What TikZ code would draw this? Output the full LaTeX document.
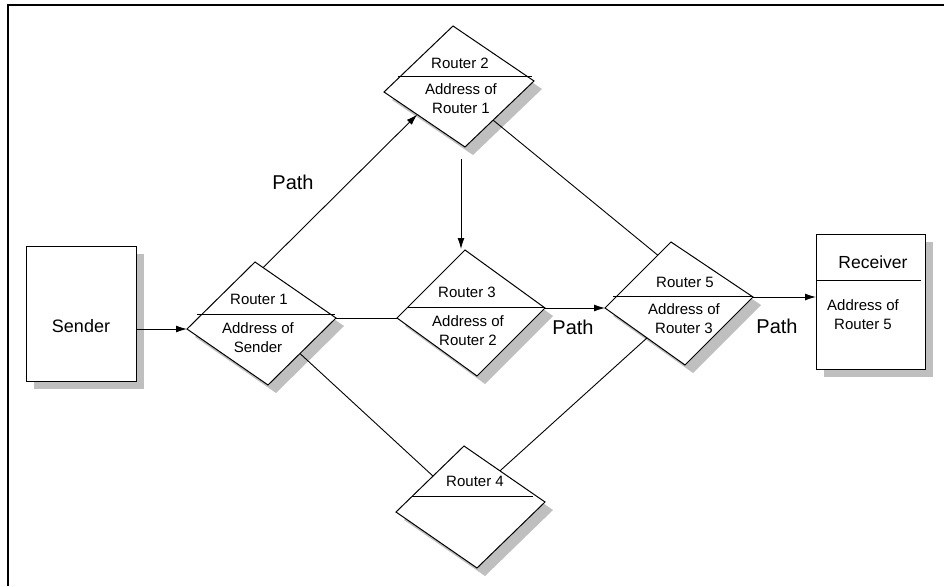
\documentclass[tikz,border=0pt]{standalone}
\usepackage{fontspec}
\setmainfont{Liberation Sans}
\usetikzlibrary{calc,arrows.meta}
\newcommand\drawrouter[5]{%
  \coordinate (#1T) at (#2);
  \coordinate (#1L) at (#3);
  \coordinate (#1R) at (#4);
  \coordinate (#1B) at (#5);
  \fill[shadowfill] ($(#1T)+(8,8)$) -- ($(#1R)+(8,8)$) -- ($(#1B)+(8,8)$) -- ($(#1L)+(8,8)$) -- cycle;
  \draw[shapebox] (#1T) -- (#1R) -- (#1B) -- (#1L) -- cycle;
}
\begin{document}
\begin{tikzpicture}[x=1pt,y=-1pt,
  shapebox/.style={draw=black,fill=white,line width=1pt},
  shadowfill/.style={fill=black!25,draw=none},
  divider/.style={draw=black,line width=1pt},
  conn/.style={draw=black,line width=0.9pt},
  arr/.style={conn,-{Latex[length=11pt,width=7pt]}},
  rtxt/.style={font=\fontsize{15}{19}\selectfont,align=center,inner sep=0pt},
  pathlbl/.style={font=\fontsize{20}{24}\selectfont,inner sep=0pt}]
\useasboundingbox (0,0) rectangle (944,586);
% frame
\coordinate (fTL) at (8,5);
\coordinate (fTR) at (944,5);
\coordinate (fBL) at (8,586);
\draw[line width=1.2pt] (fBL) -- (fTL) -- (fTR);

% Sender
\fill[shadowfill] (34,254) rectangle (144,389);
\draw[shapebox] (26,246) rectangle (136,381);
\node[font=\fontsize{18}{22}\selectfont,inner sep=0pt] (sender) at (81,326) {Sender};
\coordinate (sendR) at (136,329);

% Receiver
\fill[shadowfill] (824,242) rectangle (933,377);
\draw[shapebox] (816,234) rectangle (925,369);
\draw[divider] (816,280) -- (921,280);
\node[font=\fontsize{17.5}{21}\selectfont,inner sep=0pt] (recv) at (873,262) {Receiver};
\node[rtxt] (recvaddr) at (863,315) {Address of\\Router 5};
\coordinate (recvL) at (816,297);

% Routers
\drawrouter{ra}{255,262}{187,329}{336,318}{268,385}
\draw[divider] (197,314) -- (335,314);
\node[rtxt] (ra1) at (259,299) {Router 1};
\node[rtxt] (ra2) at (258,338) {Address of\\Sender};

\drawrouter{rb}{453,26}{384,92}{534,81}{465,147}
\draw[divider] (398,76) -- (532,76);
\node[rtxt] (rb1) at (460,63) {Router 2};
\node[rtxt] (rb2) at (461,99) {Address of\\Router 1};

\drawrouter{rc}{465,250}{397,318}{545,308}{477,376}
\draw[divider] (408,307) -- (545,307);
\node[rtxt] (rc1) at (467,292) {Router 3};
\node[rtxt] (rc2) at (468,331) {Address of\\Router 2};

\drawrouter{re}{671,242}{605,308}{753,297}{685,365}
\draw[divider] (613,296) -- (753,296);
\node[rtxt] (re1) at (685,282) {Router 5};
\node[rtxt] (re2) at (684,319) {Address of\\Router 3};

\drawrouter{rd}{464,446}{396,512}{545,502}{477,568}
\draw[divider] (412,496) -- (533,496);
\node[rtxt] (rd1) at (475,481) {Router 4};

% connectors
\draw[arr] (sendR) -- (raL);
\draw[arr] ($(raT)!0.1!(raR)$) -- ($(rbL)!0.41!(rbB)$);
\draw[arr] ($(rbB)+(-4,12)$) -- ($(rcT)+(-4,-1)$);
\draw[conn] ($(rbR)!0.593!(rbB)$) -- ($(reT)!0.2!(reL)$);
\draw[conn] (raR) -- (rcL);
\draw[arr] (rcR) -- (reL);
\draw[arr] (reR) -- (recvL);
\draw[conn] ($(raR)!0.53!(raB)$) -- ($(rdT)!0.456!(rdL)$);
\draw[conn] ($(rdT)!0.444!(rdR)$) -- ($(reL)!0.525!(reB)$);

% Path labels
\node[pathlbl] (p1) at (293,182) {Path};
\node[pathlbl] (p2) at (573,327) {Path};
\node[pathlbl] (p3) at (777,326) {Path};
\end{tikzpicture}
\end{document}
